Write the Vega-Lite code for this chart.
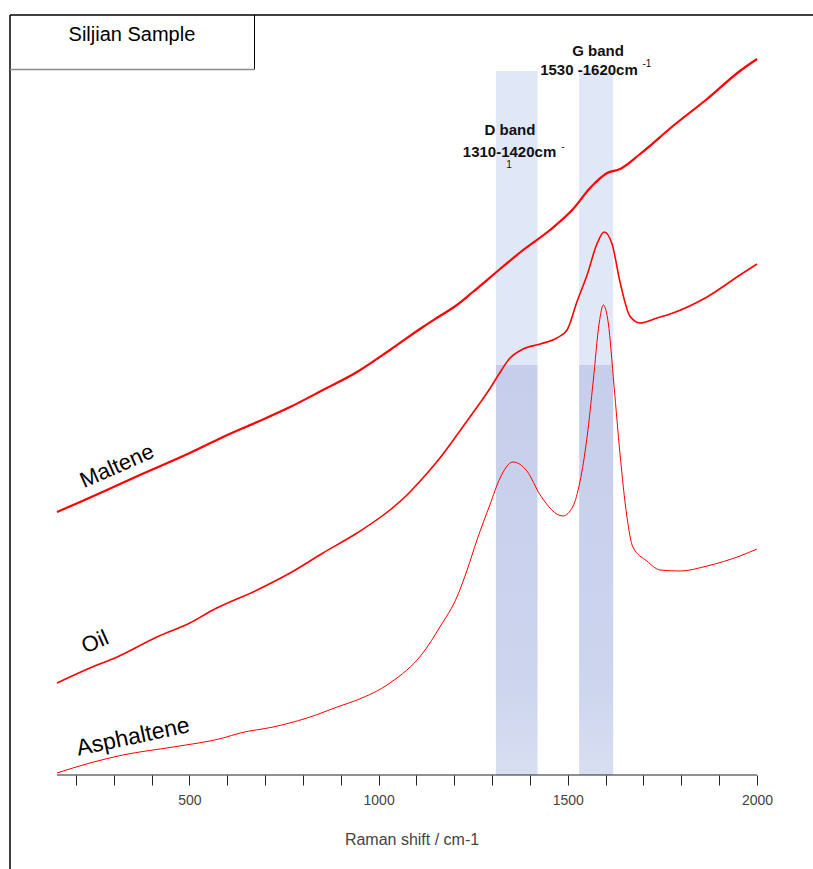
{
  "$schema": "https://vega.github.io/schema/vega-lite/v6.json",
  "width": 803,
  "height": 854,
  "autosize": {"type": "none"},
  "padding": {"left": 10, "top": 15, "right": 0, "bottom": 0},
  "background": "white",
  "config": {"view": {"stroke": null}},
  "datasets": {
    "bands": [
      {"band": "D", "part": "upper", "x": 1310, "x2": 1420, "y": 410, "y2": 704},
      {"band": "G", "part": "upper", "x": 1530, "x2": 1620, "y": 410, "y2": 704},
      {"band": "D", "part": "lower", "x": 1310, "x2": 1420, "y": 0, "y2": 410},
      {"band": "G", "part": "lower", "x": 1530, "x2": 1620, "y": 0, "y2": 410}
    ],
    "spectra": [
      {"series": "Maltene", "x": 150, "y": 263}, {"series": "Maltene", "x": 211, "y": 273}, {"series": "Maltene", "x": 282, "y": 285}, {"series": "Maltene", "x": 369, "y": 300}, {"series": "Maltene", "x": 501, "y": 322}, {"series": "Maltene", "x": 589, "y": 338}, {"series": "Maltene", "x": 679, "y": 353}, {"series": "Maltene", "x": 766, "y": 368}, {"series": "Maltene", "x": 853, "y": 385}, {"series": "Maltene", "x": 943, "y": 403}, {"series": "Maltene", "x": 1030, "y": 425}, {"series": "Maltene", "x": 1117, "y": 448}, {"series": "Maltene", "x": 1162, "y": 459}, {"series": "Maltene", "x": 1207, "y": 470}, {"series": "Maltene", "x": 1249, "y": 483}, {"series": "Maltene", "x": 1321, "y": 506}, {"series": "Maltene", "x": 1382, "y": 525}, {"series": "Maltene", "x": 1453, "y": 545}, {"series": "Maltene", "x": 1514, "y": 566}, {"series": "Maltene", "x": 1559, "y": 587}, {"series": "Maltene", "x": 1604, "y": 602}, {"series": "Maltene", "x": 1638, "y": 606}, {"series": "Maltene", "x": 1691, "y": 621}, {"series": "Maltene", "x": 1778, "y": 649}, {"series": "Maltene", "x": 1868, "y": 676}, {"series": "Maltene", "x": 1955, "y": 704}, {"series": "Maltene", "x": 2000, "y": 716},
      {"series": "Oil", "x": 150, "y": 92}, {"series": "Oil", "x": 237, "y": 107}, {"series": "Oil", "x": 309, "y": 118}, {"series": "Oil", "x": 414, "y": 138}, {"series": "Oil", "x": 501, "y": 152}, {"series": "Oil", "x": 562, "y": 165}, {"series": "Oil", "x": 679, "y": 185}, {"series": "Oil", "x": 766, "y": 202}, {"series": "Oil", "x": 853, "y": 222}, {"series": "Oil", "x": 943, "y": 242}, {"series": "Oil", "x": 1030, "y": 265}, {"series": "Oil", "x": 1075, "y": 280}, {"series": "Oil", "x": 1117, "y": 297}, {"series": "Oil", "x": 1162, "y": 317}, {"series": "Oil", "x": 1207, "y": 340}, {"series": "Oil", "x": 1249, "y": 362}, {"series": "Oil", "x": 1290, "y": 384}, {"series": "Oil", "x": 1320, "y": 402}, {"series": "Oil", "x": 1345, "y": 416}, {"series": "Oil", "x": 1382, "y": 426}, {"series": "Oil", "x": 1427, "y": 431}, {"series": "Oil", "x": 1471, "y": 437}, {"series": "Oil", "x": 1498, "y": 445}, {"series": "Oil", "x": 1524, "y": 473}, {"series": "Oil", "x": 1551, "y": 500}, {"series": "Oil", "x": 1577, "y": 531}, {"series": "Oil", "x": 1596, "y": 543}, {"series": "Oil", "x": 1617, "y": 531}, {"series": "Oil", "x": 1638, "y": 493}, {"series": "Oil", "x": 1664, "y": 459}, {"series": "Oil", "x": 1691, "y": 452}, {"series": "Oil", "x": 1736, "y": 457}, {"series": "Oil", "x": 1778, "y": 462}, {"series": "Oil", "x": 1868, "y": 478}, {"series": "Oil", "x": 1955, "y": 500}, {"series": "Oil", "x": 2000, "y": 511},
      {"series": "Asphaltene", "x": 150, "y": 2}, {"series": "Asphaltene", "x": 237, "y": 12}, {"series": "Asphaltene", "x": 324, "y": 20}, {"series": "Asphaltene", "x": 457, "y": 28}, {"series": "Asphaltene", "x": 589, "y": 37}, {"series": "Asphaltene", "x": 634, "y": 42}, {"series": "Asphaltene", "x": 721, "y": 48}, {"series": "Asphaltene", "x": 811, "y": 57}, {"series": "Asphaltene", "x": 898, "y": 69}, {"series": "Asphaltene", "x": 943, "y": 75}, {"series": "Asphaltene", "x": 1030, "y": 92}, {"series": "Asphaltene", "x": 1117, "y": 122}, {"series": "Asphaltene", "x": 1162, "y": 148}, {"series": "Asphaltene", "x": 1207, "y": 178}, {"series": "Asphaltene", "x": 1234, "y": 205}, {"series": "Asphaltene", "x": 1260, "y": 235}, {"series": "Asphaltene", "x": 1294, "y": 270}, {"series": "Asphaltene", "x": 1321, "y": 297}, {"series": "Asphaltene", "x": 1355, "y": 313}, {"series": "Asphaltene", "x": 1392, "y": 304}, {"series": "Asphaltene", "x": 1427, "y": 280}, {"series": "Asphaltene", "x": 1487, "y": 259}, {"series": "Asphaltene", "x": 1514, "y": 269}, {"series": "Asphaltene", "x": 1532, "y": 293}, {"series": "Asphaltene", "x": 1551, "y": 338}, {"series": "Asphaltene", "x": 1567, "y": 393}, {"series": "Asphaltene", "x": 1583, "y": 452}, {"series": "Asphaltene", "x": 1594, "y": 470}, {"series": "Asphaltene", "x": 1607, "y": 452}, {"series": "Asphaltene", "x": 1622, "y": 390}, {"series": "Asphaltene", "x": 1638, "y": 321}, {"series": "Asphaltene", "x": 1656, "y": 259}, {"series": "Asphaltene", "x": 1672, "y": 228}, {"series": "Asphaltene", "x": 1709, "y": 214}, {"series": "Asphaltene", "x": 1744, "y": 205}, {"series": "Asphaltene", "x": 1797, "y": 204}, {"series": "Asphaltene", "x": 1868, "y": 209}, {"series": "Asphaltene", "x": 1955, "y": 219}, {"series": "Asphaltene", "x": 2000, "y": 226}
    ]
  },
  "encoding": {
    "x": {
      "field": "x", "type": "quantitative",
      "scale": {"domain": [25.8, 2148.05], "nice": false, "zero": false},
      "axis": {
        "title": "Raman shift / cm-1",
        "values": [200, 300, 400, 500, 600, 700, 800, 900, 1000, 1100, 1200, 1300, 1400, 1500, 1600, 1700, 1800, 1900, 2000],
        "labelExpr": "datum.value % 500 === 0 ? datum.label : ''",
        "format": "d",
        "offset": -94,
        "domain": false,
        "grid": false,
        "tickSize": 10,
        "tickColor": "#222",
        "tickWidth": 1,
        "labelFont": "Liberation Sans",
        "labelFontSize": 14,
        "labelColor": "#444",
        "labelPadding": 8,
        "labelFlush": false,
        "labelOverlap": false,
        "titleFont": "Liberation Sans",
        "titleFontSize": 16,
        "titleFontWeight": "normal",
        "titleColor": "#444",
        "titlePadding": 24
      }
    },
    "y": {"field": "y", "type": "quantitative", "scale": {"domain": [-94, 760], "nice": false, "zero": false}, "axis": null}
  },
  "layer": [
    {
      "data": {"name": "bands"},
      "transform": [{"filter": "datum.part === 'upper'"}],
      "mark": {"type": "rect", "fill": "#e0e8f7"},
      "encoding": {"x2": {"field": "x2"}, "y2": {"field": "y2"}}
    },
    {
      "data": {"name": "bands"},
      "transform": [{"filter": "datum.part === 'lower'"}],
      "mark": {"type": "rect", "fill": {"gradient": "linear", "x1": 0, "y1": 0, "x2": 0, "y2": 1, "stops": [{"offset": 0, "color": "#c6ceeb"}, {"offset": 0.75, "color": "#ccd4ee"}, {"offset": 1, "color": "#d8dff2"}]}},
      "encoding": {"x2": {"field": "x2"}, "y2": {"field": "y2"}}
    },
    {
      "data": {"values": [{"x": 25.8, "y": -94, "y2": 760}]},
      "mark": {"type": "rule", "color": "black", "strokeWidth": 1.5},
      "encoding": {"y2": {"field": "y2"}}
    },
    {
      "data": {"values": [{"x": 25.8, "x2": 2148.05, "y": 760}]},
      "mark": {"type": "rule", "color": "black", "strokeWidth": 1.5},
      "encoding": {"x2": {"field": "x2"}}
    },
    {
      "data": {"values": [{"x": 672, "y": 705.5, "y2": 760}]},
      "mark": {"type": "rule", "color": "black", "strokeWidth": 1},
      "encoding": {"y2": {"field": "y2"}}
    },
    {
      "data": {"values": [{"x": 25.8, "x2": 672, "y": 705.5}]},
      "mark": {"type": "rule", "color": "#8a8a8a", "strokeWidth": 1.5},
      "encoding": {"x2": {"field": "x2"}}
    },
    {
      "data": {"values": [{"x": 150, "x2": 2000, "y": 0}]},
      "mark": {"type": "rule", "color": "#222", "strokeWidth": 1},
      "encoding": {"x2": {"field": "x2"}}
    },
    {
      "data": {"name": "spectra"},
      "mark": {"type": "line", "color": "#ff0000", "interpolate": "monotone"},
      "encoding": {
        "detail": {"field": "series"},
        "strokeWidth": {"field": "series", "type": "nominal", "scale": {"domain": ["Maltene", "Oil", "Asphaltene"], "range": [2.2, 1, 1.4]}, "legend": null}
      }
    },
    {
      "data": {"values": [{"label": "Siljian Sample", "x": 348, "y": 740}]},
      "mark": {"type": "text", "font": "Liberation Sans", "fontSize": 20, "color": "black", "align": "center", "baseline": "middle"},
      "encoding": {"text": {"field": "label"}}
    },
    {
      "data": {"values": [{"label": "Maltene", "x": 308.6, "y": 309}, {"label": "Oil", "x": 250.4, "y": 133}]},
      "mark": {"type": "text", "font": "Liberation Sans", "fontSize": 22, "color": "black", "align": "center", "baseline": "middle", "angle": -24},
      "encoding": {"text": {"field": "label"}}
    },
    {
      "data": {"values": [{"label": "Asphaltene", "x": 351, "y": 38}]},
      "mark": {"type": "text", "font": "Liberation Sans", "fontSize": 23, "color": "black", "align": "center", "baseline": "middle", "angle": -12},
      "encoding": {"text": {"field": "label"}}
    },
    {
      "data": {"values": [
        {"label": "G band", "x": 1580, "y": 724},
        {"label": "1530 -1620cm", "x": 1556, "y": 705},
        {"label": "D band", "x": 1347, "y": 645},
        {"label": "1310-1420cm", "x": 1346, "y": 623}
      ]},
      "mark": {"type": "text", "font": "Liberation Sans", "fontSize": 15, "fontWeight": "bold", "color": "#111", "align": "center", "baseline": "middle"},
      "encoding": {"text": {"field": "label"}}
    },
    {
      "data": {"values": [
        {"label": "-1", "x": 1709, "y": 711},
        {"label": "-", "x": 1487, "y": 628},
        {"label": "1", "x": 1345, "y": 610}
      ]},
      "mark": {"type": "text", "font": "Liberation Sans", "fontSize": 10, "color": "#111", "align": "center", "baseline": "middle"},
      "encoding": {"text": {"field": "label"}}
    }
  ]
}
